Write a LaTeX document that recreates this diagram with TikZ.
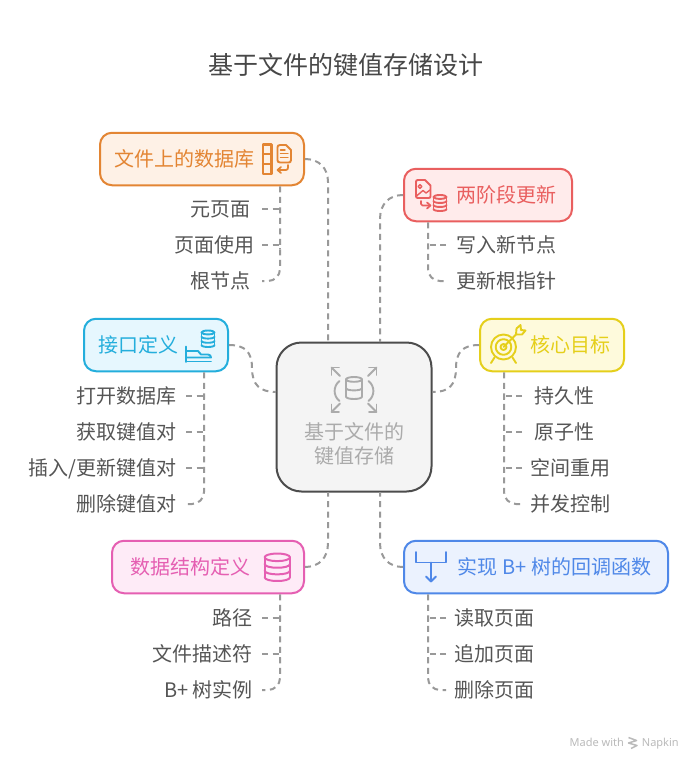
\documentclass[tikz,border=0pt]{standalone}
\usepackage{fontspec}
\setmainfont{Noto Sans CJK SC}
\newfontfamily\markfont{Noto Sans}
\usetikzlibrary{arrows.meta,calc}
\definecolor{cOr}{HTML}{E38533}\definecolor{fOr}{HTML}{FEF1E6}
\definecolor{cRe}{HTML}{E95F5F}\definecolor{fRe}{HTML}{FFEBEB}
\definecolor{cYe}{HTML}{E5CF1B}\definecolor{fYe}{HTML}{FEFADC}
\definecolor{cCy}{HTML}{24AEDC}\definecolor{fCy}{HTML}{E6F7FE}
\definecolor{cPi}{HTML}{E55FB2}\definecolor{fPi}{HTML}{FEEBF7}
\definecolor{cBl}{HTML}{4F88E8}\definecolor{fBl}{HTML}{EBF2FE}
\definecolor{cCe}{HTML}{4C4C4C}\definecolor{fCe}{HTML}{F4F4F4}
\definecolor{tCe}{HTML}{ABABAB}
\definecolor{tLeaf}{HTML}{555555}
\definecolor{cLink}{HTML}{999999}
\newcommand\dbicon[5]{%
  \pgfmathsetmacro\dbE{#3*0.3}%
  \pgfmathsetmacro\dbL{#1-#3}%
  \pgfmathsetmacro\dbR{#1+#3}%
  \pgfmathsetmacro\dbT{#2+\dbE}%
  \pgfmathsetmacro\dbB{#4-\dbE}%
  \draw (#1,\dbT) ellipse [x radius=#3pt,y radius=\dbE pt];
  \draw (\dbL,\dbT) -- (\dbL,\dbB);
  \draw (\dbR,\dbT) -- (\dbR,\dbB);
  \foreach \k in {1,...,#5}{%
    \pgfmathsetmacro\dbY{\dbT+\k*(\dbB-\dbT)/#5}%
    \pgfmathsetmacro\dbC{\dbY+1.33*\dbE}%
    \draw (\dbL,\dbY) .. controls (\dbL,\dbC) and (\dbR,\dbC) .. (\dbR,\dbY);
  }%
}
\tikzset{
  x=1pt,y=-1pt,
  txtsize/.style={font=\fontsize{20}{24}\selectfont},
  topic/.style={draw=#1,line width=2pt,rounded corners=12pt,text=#1,txtsize,
    inner sep=0pt,text height=18pt,text depth=2.8pt,minimum height=52.5pt},
  leaf/.style={txtsize,text=tLeaf,inner sep=0pt,text height=18pt,text depth=2.8pt},
  link/.style={draw=cLink,line width=2pt,dash pattern=on 6pt off 4.5pt},
  icon/.style={draw=#1,line width=1.9pt,line cap=round,line join=round},
}
\begin{document}
\begin{tikzpicture}
\useasboundingbox (0,0) rectangle (692,760);
\fill[white] (0,0) rectangle (692,760);

\node[font=\fontsize{25}{30}\selectfont,text=black!72] (title) at (346,65) {基于文件的键值存储设计};

% hub
\node[draw=cCe,fill=fCe,line width=2pt,rounded corners=25pt,minimum width=155pt,minimum height=149pt,
      inner sep=0pt,txtsize,text=tCe] (hub) at (354,417)
  {\raisebox{-34.5pt}[0pt][0pt]{\begin{tabular}{@{}c@{}}基于文件的\\键值存储\end{tabular}}};

% topics
\node[topic=cOr,fill=fOr,minimum width=204pt] (tOr) at (202,159) {文件上的数据库\hspace*{36pt}};
\node[topic=cRe,fill=fRe,minimum width=168pt] (tRe) at (488,195) {\hspace*{37pt}两阶段更新};
\node[topic=cYe,fill=fYe,minimum width=144pt] (tYe) at (552,345) {\hspace*{37pt}核心目标};
\node[topic=cCy,fill=fCy,minimum width=144pt] (tCy) at (156,345) {接口定义\hspace*{36pt}};
\node[topic=cPi,fill=fPi,minimum width=192pt] (tPi) at (208,567) {数据结构定义\hspace*{36pt}};
\node[topic=cBl,fill=fBl,minimum width=264pt] (tBl) at (536,567) {\hspace*{37pt}实现 B+ 树的回调函数};

% leaves
\node[leaf,anchor=east] (o1) at (251,209) {元页面};
\node[leaf,anchor=east] (o2) at (255,245) {页面使用};
\node[leaf,anchor=east] (o3) at (251,281) {根节点};
\node[leaf,anchor=west] (r1) at (456,245) {写入新节点};
\node[leaf,anchor=west] (r2) at (456,281) {更新根指针};
\node[leaf,anchor=west] (y1) at (534,396) {持久性};
\node[leaf,anchor=west] (y2) at (534,432) {原子性};
\node[leaf,anchor=west] (y3) at (530,468) {空间重用};
\node[leaf,anchor=west] (y4) at (530,504) {并发控制};
\node[leaf,anchor=east] (c1) at (177,396) {打开数据库};
\node[leaf,anchor=east] (c2) at (177,432) {获取键值对};
\node[leaf,anchor=east] (c3) at (177,468) {插入/更新键值对};
\node[leaf,anchor=east] (c4) at (177,504) {删除键值对};
\node[leaf,anchor=east] (p1) at (253,618) {路径};
\node[leaf,anchor=east] (p2) at (253,654) {文件描述符};
\node[leaf,anchor=east] (p3) at (253,690) {B+ 树实例};
\node[leaf,anchor=west] (b1) at (454,618) {读取页面};
\node[leaf,anchor=west] (b2) at (454,654) {追加页面};
\node[leaf,anchor=west] (b3) at (454,690) {删除页面};

% anchor helpers
\coordinate (hNl) at (328,342); \coordinate (hNr) at (380,342);
\coordinate (hSl) at (328,492); \coordinate (hSr) at (380,492);
\coordinate (hW) at (276,392);  \coordinate (hE) at (433,392);
\coordinate (tkO) at (262,0); \coordinate (trO) at (280,0);
\coordinate (tkR) at (446,0); \coordinate (trR) at (428,0);
\coordinate (tkY) at (522,0); \coordinate (trY) at (504,0);
\coordinate (tkC) at (186,0); \coordinate (trC) at (204,0);

% hub connectors
\draw[link] (tOr.east) .. controls (319,159) and (328,168) .. (328,182) -- (hNl);
\draw[link] (tRe.west) .. controls (389,195) and (380,204) .. (380,219) -- (hNr);
\draw[link] (tPi.east) .. controls (319,567) and (328,558) .. (328,543) -- (hSl);
\draw[link] (tBl.west) .. controls (389,567) and (380,558) .. (380,543) -- (hSr);
\draw[link] (tCy.east) .. controls (245,345) and (252,352) .. (252,368) .. controls (252,385) and (260,392) .. (hW);
\draw[link] (tYe.west) .. controls (463,345) and (456,352) .. (456,368) .. controls (456,385) and (449,392) .. (hE);

% trunks
\draw[link,rounded corners=12pt] (tOr.south -| trO) |- (o3 -| tkO);
\draw[link,rounded corners=12pt] (tRe.south -| trR) |- (r2 -| tkR);
\draw[link,rounded corners=12pt] (tYe.south -| trY) |- (y4 -| tkY);
\draw[link,rounded corners=12pt] (tCy.south -| trC) |- (c4 -| tkC);
\draw[link,rounded corners=12pt] (tPi.south -| trO) |- (p3 -| tkO);
\draw[link,rounded corners=12pt] (tBl.south -| trR) |- (b3 -| tkR);

% branches
\foreach \n in {o1,o2,p1,p2}
  \draw[link] (\n -| tkO) -- (\n -| trO) -- ++(0,4);
\foreach \n in {r1,b1,b2}
  \draw[link] (\n -| tkR) -- (\n -| trR) -- ++(0,4);
\foreach \n in {y1,y2,y3}
  \draw[link] (\n -| tkY) -- (\n -| trY) -- ++(0,4);
\foreach \n in {c1,c2,c3}
  \draw[link] (\n -| tkC) -- (\n -| trC) -- ++(0,4);

% orange icon
\begin{scope}[icon=cOr]
  \draw[line width=2.2pt] (263,144.5) -- (271.5,144.5) -- (271.5,174) -- (263,174) -- cycle;
  \draw[line width=2.2pt] (263,154.3) -- (271.5,154.3) (263,164.2) -- (271.5,164.2);
  \draw (280,145) -- (286,145) -- (291,150) -- (291,160) .. controls (291,162) and (290,162.5) .. (288.5,162.5) -- (280,162.5) .. controls (278,162.5) and (277.5,161.5) .. (277.5,160) -- (277.5,147.5) .. controls (277.5,146) and (278,145) .. (280,145);
  \draw[line width=1.4pt] (280.5,150) -- (285,150) (280.5,153.7) -- (288,153.7) (280.5,157.5) -- (288,157.5);
  \draw[line width=1.7pt] (288,165) -- (288,167.5) .. controls (288,169) and (287.5,170) .. (286,170) -- (278,170);
  \draw[line width=1.7pt] (281,167) -- (277.5,170) -- (281,173);
\end{scope}

% red icon
\begin{scope}[icon=cRe]
  \draw (418,180) -- (425,180) -- (430.5,185.5) -- (430.5,196) .. controls (430.5,197.5) and (430,198) .. (428.5,198) -- (418,198) .. controls (416.5,198) and (416,197.5) .. (416,196) -- (416,182) .. controls (416,180.5) and (416.5,180) .. (418,180);
  \draw[line width=1.4pt] (420,186.5) circle [radius=1.8pt];
  \draw[line width=1.4pt] (416.5,196) -- (423,190.5) -- (426,193) -- (430,190);
  \draw[line width=1.7pt] (421,201) -- (421,204) .. controls (421,205) and (421.5,205.5) .. (422.5,205.5) -- (430,205.5);
  \draw[line width=1.7pt] (427,202.5) -- (430.5,205.5) -- (427,208.5);
  \dbicon{440}{195}{6.5}{211}{3}
\end{scope}

% yellow icon
\begin{scope}[icon=cYe]
  \draw (503.5,347) circle [radius=12.5pt];
  \draw (503.5,347) circle [radius=7.8pt];
  \draw (503.5,347) circle [radius=3pt];
  \draw (503.5,347) -- (516,334.5);
  \draw (516,334.5) -- (516.5,328.5) -- (520.5,325) -- (521,330) -- (525.5,330.5) -- (522,334.5) -- cycle;
  \draw (494.5,357.5) -- (491,363);
  \draw (512.5,357.5) -- (516,363);
\end{scope}

% cyan icon
\begin{scope}[icon=cCy]
  \dbicon{208}{330.5}{6.5}{347}{3}
  \draw (186,346.5) -- (186,362);
  \draw (186,351) -- (198,351) -- (201,354.5) -- (208,354.5) .. controls (210,354.5) and (211,356) .. (211,357.5) -- (186,357.5);
  \draw (186,361.5) -- (211,361.5);
\end{scope}

% pink icon
\begin{scope}[icon=cPi,line width=2pt]
  \dbicon{277.3}{553.5}{12.7}{581}{3}
\end{scope}

% blue icon
\begin{scope}[icon=cBl]
  \draw (416,552) -- (416,562.5) -- (446,562.5) -- (446,552);
  \draw (431,562.5) -- (431,581.5);
  \draw (426,576.5) -- (431,581.5) -- (436,576.5);
\end{scope}

% hub icon
\begin{scope}[icon=tCe]
  \dbicon{354}{377}{8}{399}{2}
  \draw (339.5,381) .. controls (333,386) and (333,396) .. (339.5,401);
  \draw (368.5,381) .. controls (375,386) and (375,396) .. (368.5,401);
  \draw (340,376) -- (331.5,367.5);
  \draw (331.5,375) -- (331.5,367.5) -- (339,367.5);
  \draw (368,376) -- (376.5,367.5);
  \draw (369,367.5) -- (376.5,367.5) -- (376.5,375);
  \draw (340,403.5) -- (331.5,412);
  \draw (331.5,404.5) -- (331.5,412) -- (339,412);
  \draw (368,403.5) -- (376.5,412);
  \draw (376.5,404.5) -- (376.5,412) -- (369,412);
\end{scope}

% watermark
\node[font=\markfont\fontsize{11}{13}\selectfont,text=black!27,anchor=west,inner sep=0pt] (mark) at (569.5,743.5) {Made with\hspace*{18pt}Napkin};
\draw[draw=black!27,line width=1.5pt,line join=round] (628.5,737.5) -- (636.5,740.5) -- (628.5,743) -- (637,745.5) -- (631,748.5);
\end{tikzpicture}
\end{document}
